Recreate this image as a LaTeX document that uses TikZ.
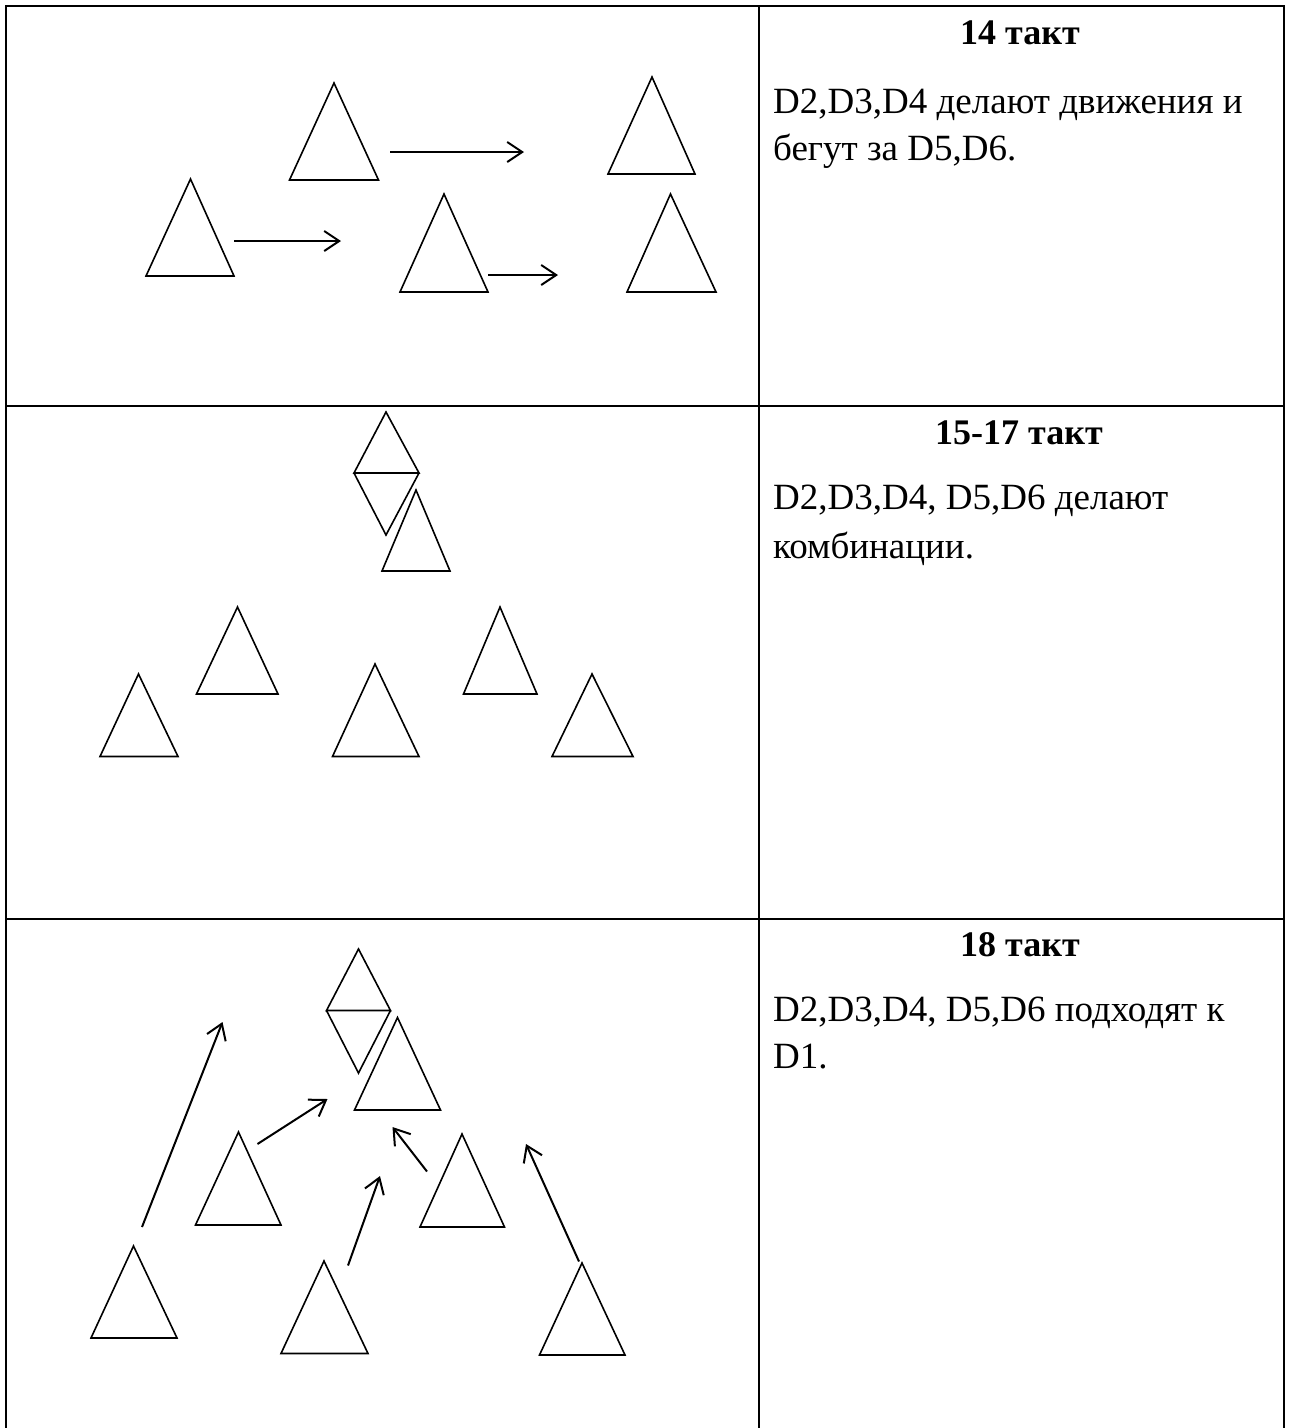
\documentclass[tikz,border=0pt]{standalone}
\usepackage{fontspec}
\setmainfont{Liberation Serif}
\usetikzlibrary{arrows.meta}

\begin{document}
\begin{tikzpicture}[x = 1pt, y = -1pt,
		grid/.style = {line width = 2.6pt},
		fig/.style = {line width = 1.6pt, line join = miter},
		move/.style = {line width = 2pt, -{Straight Barb[length = 15pt, width = 20pt, line width = 2pt]}},
		title/.style = {anchor = base, inner sep = 0, font = \fontsize{36}{42}\selectfont\bfseries},
		body/.style = {anchor = base west, inner sep = 0, font = \fontsize{37}{44}\selectfont}]
		\useasboundingbox (0, 0) rectangle (1289, 1428);
		%%%%%%%%%%%%% table
		\draw [grid] (6, 1428) -- (6, 6) -- (1284, 6) -- (1284, 1428);
		\draw [grid] (759, 6) -- (759, 1428);
		\draw [grid] (6, 406) -- (1284, 406);
		\draw [grid] (6, 919) -- (1284, 919);
		%%%%%%%%%%%%% 14
		\node [title] (h1) at (1020, 44) {14 такт};
		\node [body] (l1a) at (773, 113) {D2,D3,D4 делают движения и};
		\node [body] (l1b) at (773, 160) {бегут за D5,D6.};
		\draw [fig] (334, 83) -- (378.5, 180) -- (289.5, 180) -- cycle;
		\draw [fig] (652, 77) -- (695, 174) -- (608, 174) -- cycle;
		\draw [fig] (190.5, 179) -- (234, 276) -- (146, 276) -- cycle;
		\draw [fig] (444, 194) -- (488, 292) -- (400, 292) -- cycle;
		\draw [fig] (670.5, 194) -- (716, 292) -- (627, 292) -- cycle;
		\coordinate (m1s) at (390, 152); \coordinate (m1e) at (524, 152);
		\coordinate (m2s) at (234, 241); \coordinate (m2e) at (341, 241);
		\coordinate (m3s) at (488, 275); \coordinate (m3e) at (558, 275);
		\draw [move] (m1s) to (m1e); \draw [move] (m2s) to (m2e); \draw [move] (m3s) to (m3e);
		%%%%%%%%%%%%% 15-17
		\node [title] (h2) at (1019, 444) {15-17 такт};
		\node [body] (l2a) at (773, 509) {D2,D3,D4, D5,D6 делают};
		\node [body] (l2b) at (773, 558) {комбинации.};
		\draw [fig] (386, 412) -- (419, 473) -- (354, 473) -- cycle;
		\draw [fig] (354, 473) -- (386, 535) -- (419, 473);
		\draw [fig] (416, 490) -- (450, 571) -- (382, 571) -- cycle;
		\draw [fig] (138.5, 674) -- (178, 756.5) -- (100, 756.5) -- cycle;
		\draw [fig] (237.5, 607) -- (278, 694) -- (196.5, 694) -- cycle;
		\draw [fig] (375, 664) -- (419, 756.5) -- (332.5, 756.5) -- cycle;
		\draw [fig] (500, 607) -- (537, 694) -- (463.5, 694) -- cycle;
		\draw [fig] (592, 674) -- (633, 756.5) -- (552, 756.5) -- cycle;
		%%%%%%%%%%%%% 18
		\node [title] (h3) at (1020, 956) {18 такт};
		\node [body] (l3a) at (773, 1021) {D2,D3,D4, D5,D6 подходят к};
		\node [body] (l3b) at (773, 1068) {D1.};
		\draw [fig] (358.5, 949) -- (390.5, 1010.5) -- (326.5, 1010.5) -- cycle;
		\draw [fig] (326.5, 1010.5) -- (358.5, 1073) -- (390.5, 1010.5);
		\draw [fig] (397.5, 1017.5) -- (440.5, 1110) -- (354.5, 1110) -- cycle;
		\draw [fig] (238.5, 1132) -- (281, 1225) -- (195.5, 1225) -- cycle;
		\draw [fig] (462, 1134) -- (504.5, 1227) -- (420, 1227) -- cycle;
		\draw [fig] (133.5, 1246) -- (177, 1338) -- (91, 1338) -- cycle;
		\draw [fig] (324, 1261) -- (368, 1353.5) -- (281, 1353.5) -- cycle;
		\draw [fig] (582, 1263) -- (625, 1355) -- (539.5, 1355) -- cycle;
		\coordinate (n1s) at (142, 1227); \coordinate (n1e) at (222.5, 1022);
		\coordinate (n2s) at (257.5, 1144); \coordinate (n2e) at (327.5, 1099);
		\coordinate (n3s) at (427, 1171.5); \coordinate (n3e) at (392.5, 1127);
		\coordinate (n4s) at (348, 1265.5); \coordinate (n4e) at (380, 1176);
		\coordinate (n5s) at (579, 1261.5); \coordinate (n5e) at (526, 1144);
		\draw [move] (n1s) to (n1e); \draw [move] (n2s) to (n2e);
		\draw [move] (n3s) to (n3e); \draw [move] (n4s) to (n4e);
		\draw [move] (n5s) to (n5e);
\end{tikzpicture}
\end{document}
